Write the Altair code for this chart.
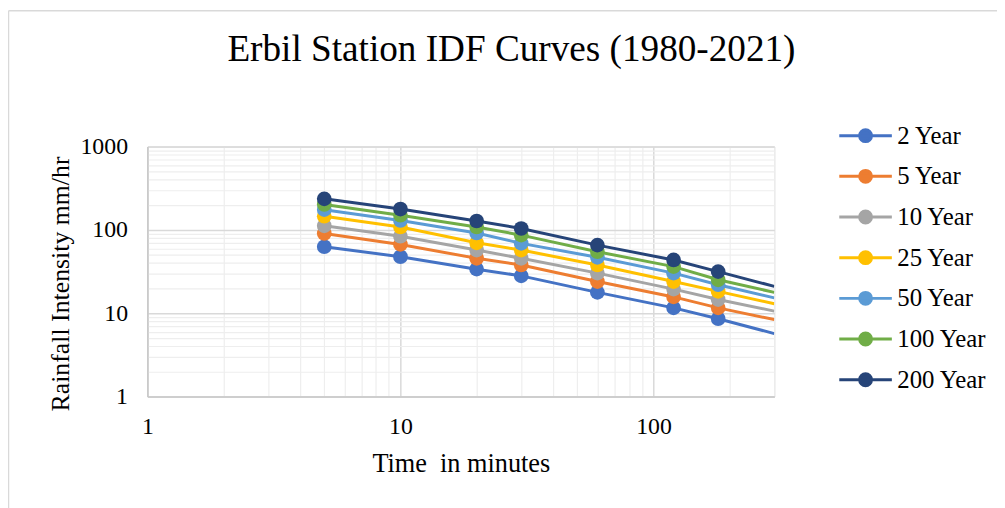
import altair as alt
import pandas as pd

durations = [5, 10, 20, 30, 60, 120, 180]
edge_duration = 300
series = ["2 Year", "5 Year", "10 Year", "25 Year", "50 Year", "100 Year", "200 Year"]
colors = ["#4472C4", "#ED7D31", "#A5A5A5", "#FFC000", "#5B9BD5", "#70AD47", "#264478"]

y2 = [62.8, 47.7, 33.8, 28.1, 17.8, 11.6, 8.6]
y5 = [90.6, 67.0, 45.6, 38.0, 24.0, 15.7, 11.6]
y10 = [112.0, 84.0, 57.3, 45.6, 30.3, 19.5, 14.6]
y25 = [146.0, 108.6, 70.0, 57.3, 38.0, 24.0, 18.3]
y50 = [175.0, 130.0, 92.0, 68.9, 46.9, 30.3, 22.0]
y100 = [202.0, 150.0, 108.6, 86.5, 54.7, 36.3, 25.2]
y200 = [236.0, 178.0, 128.0, 104.0, 65.7, 43.6, 31.6]
edge_values = [5.7, 8.4, 10.6, 13.0, 15.3, 17.8, 21.0]

x_grid = [1, 2, 3, 4, 5, 6, 7, 8, 9, 10, 20, 30, 40, 50, 60, 70, 80, 90, 100, 200, 300]
y_grid = [1, 2, 3, 4, 5, 6, 7, 8, 9, 10, 20, 30, 40, 50, 60, 70, 80, 90,
          100, 200, 300, 400, 500, 600, 700, 800, 900, 1000]

title_text = "Erbil Station IDF Curves (1980-2021)"
x_title = "Time \u00a0in minutes"
y_title = "Rainfall Intensity mm/hr"

all_vals = [y2, y5, y10, y25, y50, y100, y200]
rows = []
for s, vals, ev in zip(series, all_vals, edge_values):
    for d, v in zip(durations, vals):
        rows.append({"series": s, "duration": d, "intensity": v, "marker": True})
    rows.append({"series": s, "duration": edge_duration, "intensity": ev, "marker": False})
df = pd.DataFrame(rows)

FONT = "Liberation Serif"
major_x = "datum.value == 1 || datum.value == 10 || datum.value == 100"
major_y = "datum.value == 1 || datum.value == 10 || datum.value == 100 || datum.value == 1000"

x_enc = alt.X(
    "duration:Q",
    scale=alt.Scale(type="log", domain=[1, 300], nice=False),
    axis=alt.Axis(
        values=x_grid, format="d",
        labelExpr="(" + major_x + ") ? datum.label : ''",
        title=x_title,
        grid=True,
        gridColor={"condition": {"test": major_x, "value": "#d9d9d9"}, "value": "#eeeeee"},
        gridWidth={"condition": {"test": major_x, "value": 1.5}, "value": 1.2},
        ticks=False,
        domainColor="#c8c8c8",
        domainWidth=1.5,
        labelFont=FONT, labelFontSize=24, labelColor="#000", labelPadding=18,
        labelFlush=False, labelOverlap=False,
        titleFont=FONT, titleFontSize=26.5, titleFontWeight="normal", titleColor="#000",
        titlePadding=13,
    ),
)
y_enc = alt.Y(
    "intensity:Q",
    scale=alt.Scale(type="log", domain=[1, 1000], nice=False),
    axis=alt.Axis(
        values=y_grid, format="d",
        labelExpr="(" + major_y + ") ? datum.label : ''",
        title=y_title,
        grid=True,
        gridColor={"condition": {"test": major_y, "value": "#d9d9d9"}, "value": "#eeeeee"},
        gridWidth={"condition": {"test": major_y, "value": 1.5}, "value": 1.2},
        ticks=False,
        domainColor="#c8c8c8",
        domainWidth=1.5,
        labelFont=FONT, labelFontSize=24, labelColor="#000", labelPadding=20,
        labelFlush=False, labelOverlap=False,
        titleFont=FONT, titleFontSize=26, titleFontWeight="normal", titleColor="#000",
        titlePadding=7, titleY=138,
    ),
)

color_scale = alt.Scale(domain=series, range=colors)
legend_path = ("M-1,0L1,0M0.226,0A0.226,0.226,0,1,1,-0.226,0"
               "A0.226,0.226,0,1,1,0.226,0Z")
legend = alt.Legend(
    title=None, orient="none", legendX=696, legendY=-39,
    symbolType=legend_path, symbolSize=2809, symbolStrokeWidth=3,
    symbolOpacity=1, labelOffset=4, rowPadding=-14,
    labelFont=FONT, labelFontSize=25, labelColor="#000",
)
color_enc = alt.Color("series:N", scale=color_scale, sort=series, legend=legend)

lines = alt.Chart(df).mark_line(strokeWidth=3, clip=True).encode(
    x=x_enc, y=y_enc, color=color_enc,
)
points = alt.Chart(df).transform_filter("datum.marker").mark_point(
    filled=True, size=220, opacity=1
).encode(
    x=x_enc, y=y_enc, color=color_enc,
)

title_df = pd.DataFrame({"t": [title_text]})
title = alt.Chart(title_df).mark_text(
    font=FONT, fontSize=37.5, color="#000", align="center", baseline="alphabetic"
).encode(text="t:N", x=alt.value(367), y=alt.value(-86))

border_top = alt.Chart(title_df).mark_rule(color="#d9d9d9", strokeWidth=1.5).encode(
    x=alt.value(-140), x2=alt.value(860), y=alt.value(-137)
)
border_left = alt.Chart(title_df).mark_rule(color="#d9d9d9", strokeWidth=1.5).encode(
    x=alt.value(-140), y=alt.value(-137), y2=alt.value(370)
)

chart = alt.layer(border_top, border_left, lines, points, title).properties(
    width=632, height=252,
    autosize=alt.AutoSizeParams(type="none"),
    padding={"left": 140.5, "top": 137.7, "right": 224.5, "bottom": 110},
).configure_view(stroke=None).configure(background="white")

chart.save("out.html", embed_options={"renderer": "svg", "actions": False})
